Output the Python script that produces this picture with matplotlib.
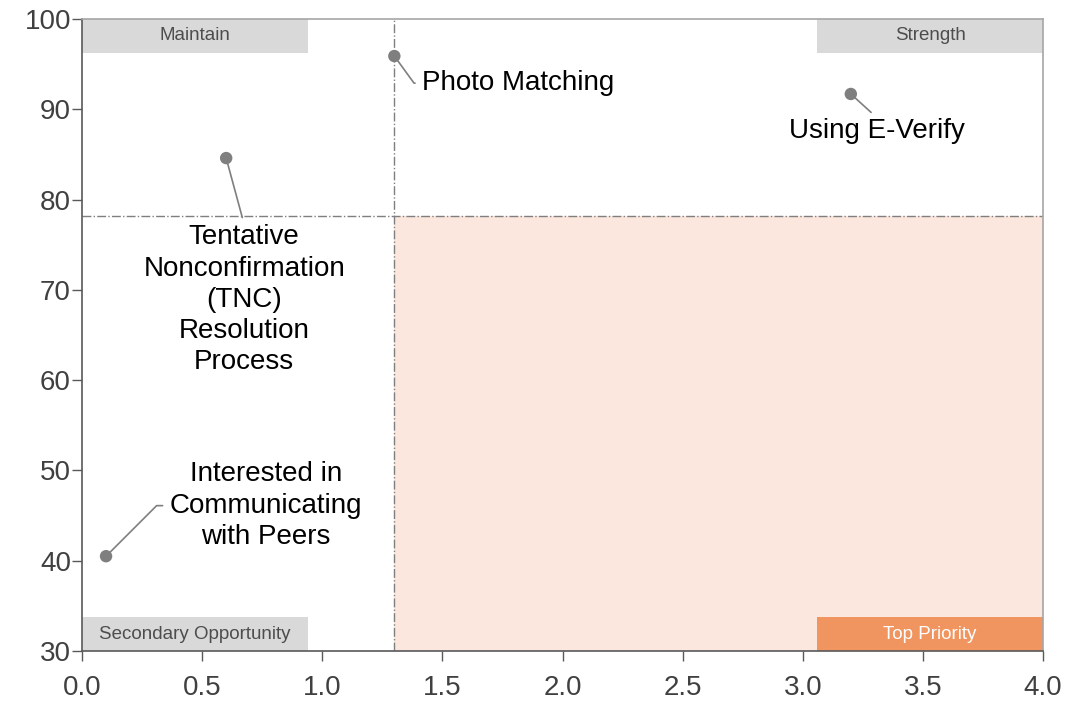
import matplotlib.pyplot as plt
from matplotlib.patches import Rectangle

plt.rcParams['font.family'] = ['Liberation Sans', 'DejaVu Sans']

# performance (x) vs satisfaction (y) for each program feature
features = ['Photo Matching', 'Using E-Verify',
            'Tentative\nNonconfirmation\n(TNC)\nResolution\nProcess',
            'Interested in\nCommunicating\nwith Peers']
importance = [1.30, 3.20, 0.60, 0.10]
satisfaction = [95.9, 91.7, 84.6, 40.5]

# quadrant split lines
x_split = 1.3
y_split = 78.2

# where each label sits and how its leader line is drawn
label_pos = [(1.415, 92.9), (3.31, 87.6), (0.675, 68.9), (0.765, 46.1)]
label_ha = ['left', 'center', 'center', 'center']
label_rel = [(0, 0.5), (0.5, 1.0), (0.5, 1.0), (0, 0.5)]
label_conn = ['angle,angleA=0,angleB=126,rad=0', 'arc3', 'arc3',
              'angle,angleA=0,angleB=45,rad=0']

quadrants = ['Maintain', 'Strength', 'Secondary Opportunity', 'Top Priority']

grey = '#7f7f7f'
fig = plt.figure(figsize=(10.68, 7.05), dpi=100)
ax = fig.add_axes([0.0768, 0.0766, 0.8998, 0.8964])
ax.set_xlim(0, 4)
ax.set_ylim(30, 100)

# shaded "top priority" zone
ax.add_patch(Rectangle((x_split, 30), 4 - x_split, y_split - 30,
                       facecolor='#fbe7dd', edgecolor='none', zorder=0))
ax.axvline(x_split, color=grey, lw=1, ls='-.', zorder=1)
ax.axhline(y_split, color=grey, lw=1, ls='-.', zorder=1)

# quadrant name tags in the corners
box_w, box_h = 0.94, 3.75
tags = [(0, 100 - box_h, '#d9d9d9', '#4d4d4d'),
        (4 - box_w, 100 - box_h, '#d9d9d9', '#4d4d4d'),
        (0, 30, '#d9d9d9', '#4d4d4d'),
        (4 - box_w, 30, '#f0955f', 'white')]
for name, (x0, y0, fc, tc) in zip(quadrants, tags):
    ax.add_patch(Rectangle((x0, y0), box_w, box_h, facecolor=fc,
                           edgecolor='none', zorder=2))
    ax.text(x0 + box_w / 2, y0 + box_h / 2, name, ha='center', va='center',
            fontsize=13.5, color=tc, zorder=3)

ax.scatter(importance, satisfaction, s=80, color=grey, zorder=4,
           edgecolors='none')

for i, name in enumerate(features):
    ax.annotate(name, xy=(importance[i], satisfaction[i]),
                xytext=label_pos[i], ha=label_ha[i], va='center',
                fontsize=20, color='black', linespacing=1.26,
                arrowprops=dict(arrowstyle='-', color=grey, lw=1.2,
                                shrinkA=3, shrinkB=4,
                                relpos=label_rel[i],
                                connectionstyle=label_conn[i]),
                zorder=5)

ax.set_xticks([0, 0.5, 1, 1.5, 2, 2.5, 3, 3.5, 4])
ax.set_xticklabels([f'{v:.1f}' for v in ax.get_xticks()])
ax.set_yticks(range(30, 101, 10))
ax.tick_params(length=7, width=1, color='#595959', labelsize=20,
               labelcolor='#404040')
ax.tick_params(axis='x', pad=10)
ax.tick_params(axis='y', pad=1)
for side in ['left', 'bottom']:
    ax.spines[side].set_color('#595959')
for side in ['top', 'right']:
    ax.spines[side].set_color('#a6a6a6')
for sp in ax.spines.values():
    sp.set_linewidth(1.2)

fig.savefig('out.png', dpi=100)
